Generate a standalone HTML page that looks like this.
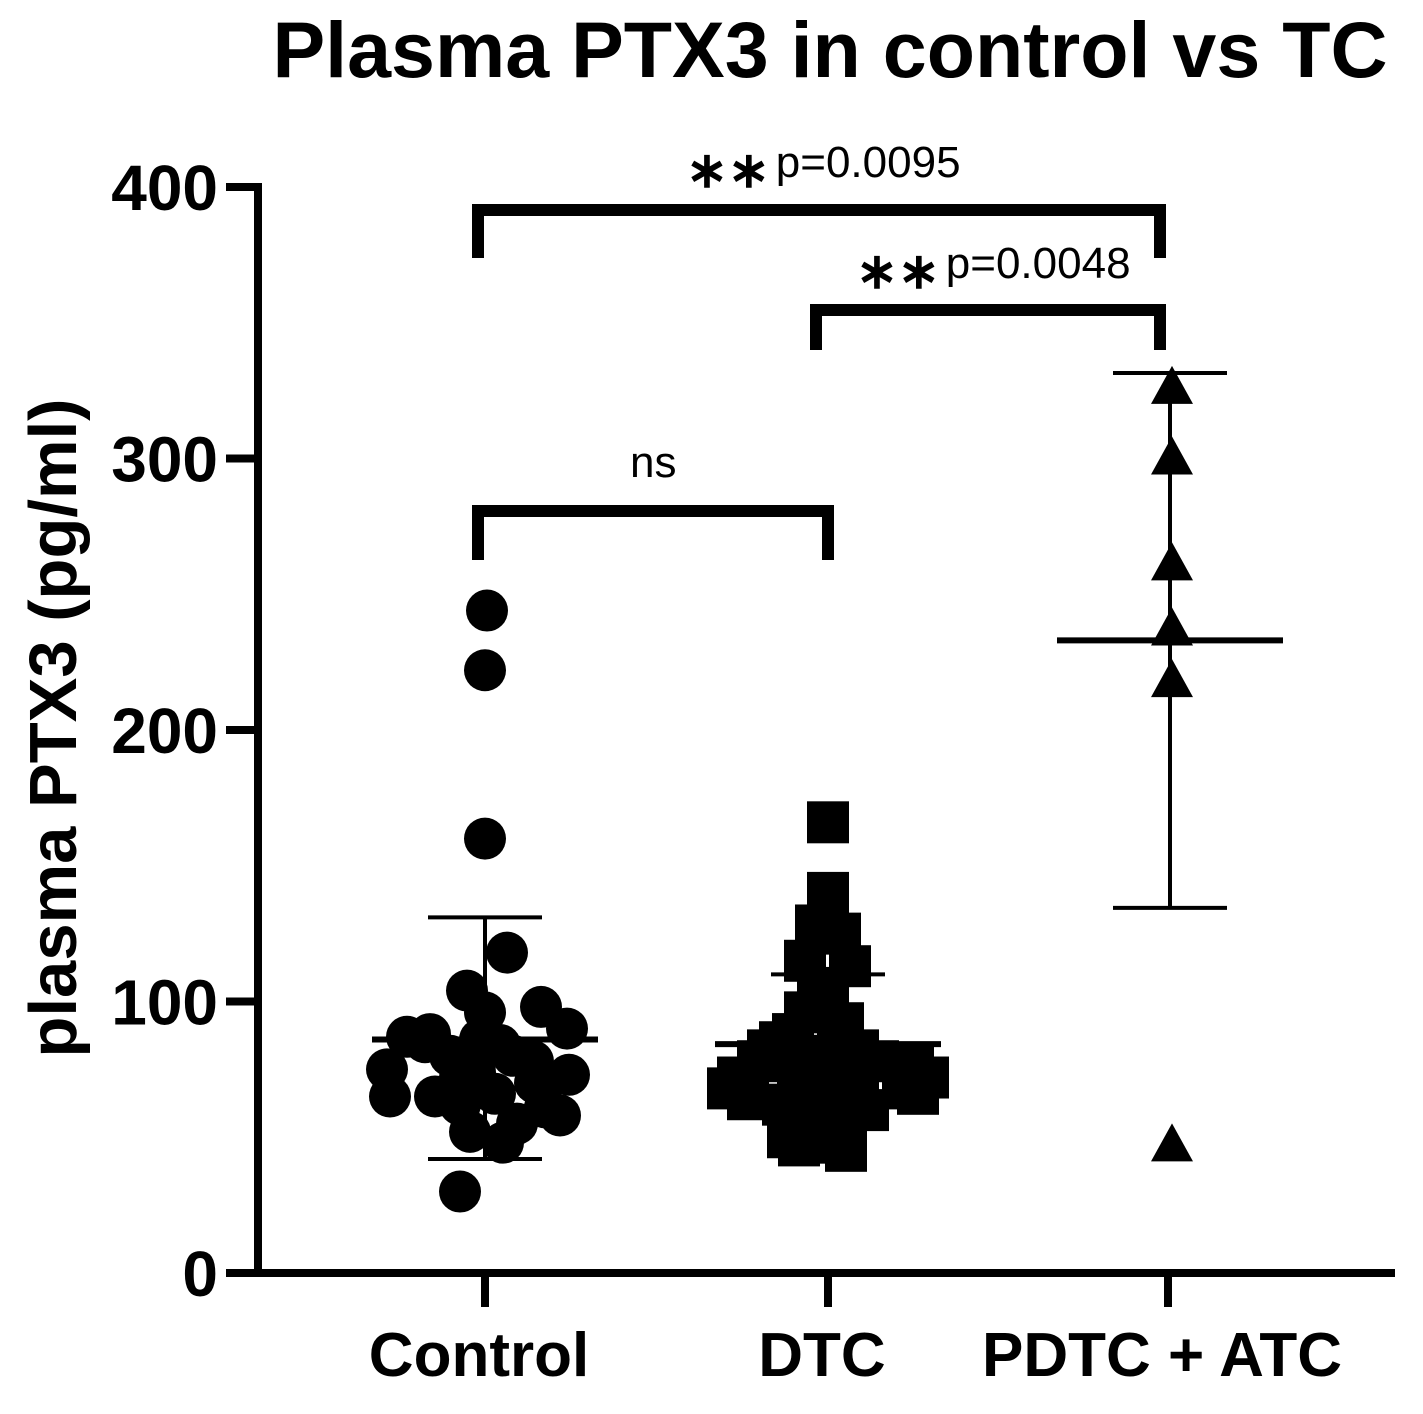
<!DOCTYPE html>
<html><head><meta charset="utf-8"><style>
html,body{margin:0;padding:0;background:#fff}
svg{display:block}
text{font-family:"Liberation Sans",Arial,sans-serif;fill:#000}
</style></head><body>
<svg id="chart" width="1423" height="1414" viewBox="0 0 1423 1414"></svg>
<script>
const categories=["Control","DTC","PDTC + ATC"];
const yTicks=[0,100,200,300,400];
const controlValues=[244,222,160,118,104,96,98,90,88,87,85,80,84,80,78,75,72,74,73,70,65,62,58,55,52,48,65,66,61,86,30];
const controlJitter=[2,0,0,22,-18,0,56,82,-55,-78,-60,28,15,-35,48,-98,-25,-10,84,50,-95,-25,75,32,-15,18,-50,10,60,-5,-25];
const dtcValues=[166,140,128,125,115,113,105,100,96,92,88,85,82,82,78,78,72,76,72,68,68,66,64,62,58,62,60,50,48,55,70,80,85,72,72,47,45];
const dtcJitter=[0,0,-12,12,-23,22,-10,0,-23,15,-35,-48,-60,30,-70,50,-90,85,100,-100,75,90,-80,-45,-20,20,40,-40,10,-20,0,-10,10,30,-30,-29,18];
const pdtcValues=[326,300,261,237,218,47];
const means=[86,84.3,233];
const sdUpper=[131,110,331.5];
const sdLower=[42,58,134.5];
const sigLabels=["ns","p=0.0048","p=0.0095"];

const NS="http://www.w3.org/2000/svg";
const svg=document.getElementById('chart');
const y0=1273,pxPer=2.715;
const yScale=v=>y0-v*pxPer;
const xPos=[485,828,1168];
const xScale=i=>xPos[i];
function el(tag,attrs,parent){const e=document.createElementNS(NS,tag);for(const k in attrs)e.setAttribute(k,attrs[k]);(parent||svg).appendChild(e);return e;}

const title=el('text',{x:830,y:77,'text-anchor':'middle','font-size':79,'font-weight':'bold'});
title.textContent="Plasma PTX3 in control vs TC";



const yl=el('text',{x:0,y:0,'text-anchor':'middle','font-size':67,'font-weight':'bold',transform:'translate(76,728) rotate(-90)'});
yl.textContent="plasma PTX3 (pg/ml)";



const ax=el('path',{d:`M258,${yScale(400)-4} V1273 H1395`,stroke:'#000','stroke-width':8,fill:'none'});


yTicks.forEach(t=>{
  const tk=el('line',{x1:226,x2:258,y1:yScale(t),y2:yScale(t),stroke:'#000','stroke-width':8});
  
  
  const tl=el('text',{x:218,y:yScale(t)+23,'text-anchor':'end','font-size':64,'font-weight':'bold'});
  tl.textContent=t;
  
  
});
categories.forEach((c,i)=>{
  const tk=el('line',{x1:xScale(i),x2:xScale(i),y1:1273,y2:1307,stroke:'#000','stroke-width':8});
  
  
  const tl=el('text',{x:xScale(i)-6,y:1376,'text-anchor':'middle','font-size':62,'font-weight':'bold'});
  tl.textContent=c;
  
  
});

controlValues.forEach((v,i)=>{
  const c=el('circle',{cx:xScale(0)+controlJitter[i],cy:yScale(v),r:21,fill:'#000'});
  
  
});
dtcValues.forEach((v,i)=>{
  const r=el('rect',{x:xScale(1)+dtcJitter[i]-21,y:yScale(v)-21,width:42,height:42,fill:'#000'});
  
  
});
pdtcValues.forEach(v=>{
  const x=xScale(2)+4,y=yScale(v);
  const p=el('polygon',{points:`${x},${y-22} ${x+21},${y+16} ${x-21},${y+16}`,fill:'#000'});
  
  
});

means.forEach((m,i)=>{
  const x=xScale(i)+(i==2?2:0);
  const g=el('g',{stroke:'#000'});
  
  
  el('line',{x1:x-113,x2:x+113,y1:yScale(m),y2:yScale(m),'stroke-width':6},g);
  el('line',{x1:x,x2:x,y1:yScale(sdUpper[i]),y2:yScale(sdLower[i]),'stroke-width':4},g);
  el('line',{x1:x-57,x2:x+57,y1:yScale(sdUpper[i]),y2:yScale(sdUpper[i]),'stroke-width':4},g);
  el('line',{x1:x-57,x2:x+57,y1:yScale(sdLower[i]),y2:yScale(sdLower[i]),'stroke-width':4},g);
});

function bracket(x1,x2,y,yb,name){
  const b=el('path',{d:`M${x1},${yb} V${y} H${x2} V${yb}`,stroke:'#000','stroke-width':12,fill:'none'});
  
  
}
bracket(478,828,511,560,'bracket-ns');
bracket(816,1160,310,350,'bracket-dtc-vs-pdtc');
bracket(478,1160,210,258,'bracket-control-vs-pdtc');

function sig(x,y,stars,label,name){
  const t=el('text',{x:x,y:y,'font-size':44});
  
  
  if(stars){const s=el('tspan',{'font-size':50,'font-weight':'bold',dy:10},t);s.textContent='∗∗';
    const p=el('tspan',{dx:6,dy:-10},t);p.textContent=label;}
  else t.textContent=label;
}
sig(630,477,false,sigLabels[0],'ns-label');
sig(856,278,true,sigLabels[1],'p-value-dtc-pdtc');
sig(686,177,true,sigLabels[2],'p-value-control-pdtc');
</script>
</body></html>
